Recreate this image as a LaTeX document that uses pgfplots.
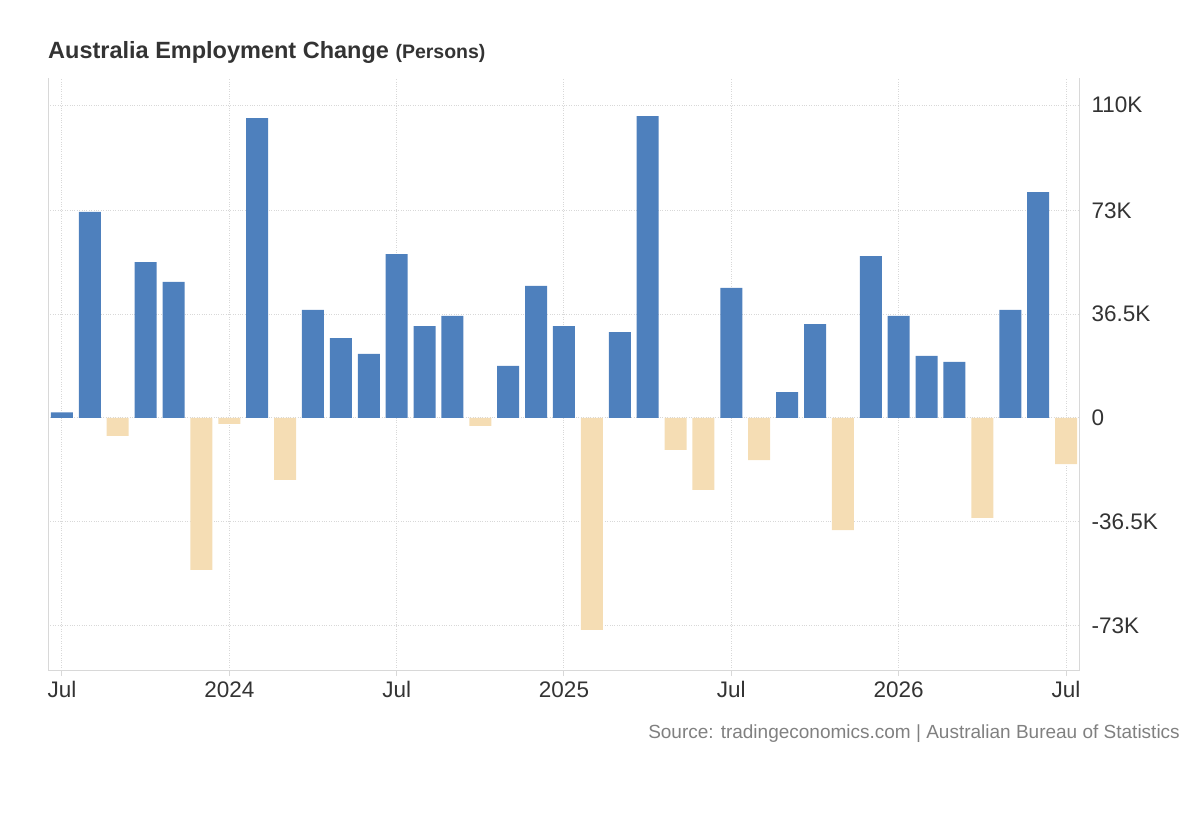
\documentclass[border=0pt]{standalone}
\usepackage{pgfplots}
\pgfplotsset{compat=1.18}
\usepackage{fontspec}
\setmainfont{Liberation Sans}
\definecolor{pos}{HTML}{4E80BD}
\definecolor{neg}{HTML}{F5DDB4}
\definecolor{gridc}{HTML}{D8D8D8}
\definecolor{txt}{HTML}{333333}
\begin{document}
\begin{tikzpicture}
\path[use as bounding box] (0,0) rectangle (1200pt,820pt);
\begin{axis}[at={(48pt,150pt)},anchor=south west,
 scale only axis, width=1032pt, height=592pt,
 xmin=-0.5, xmax=36.5, ymin=-88.6, ymax=119.5,
 axis x line*=bottom, axis y line*=right, axis line style={gridc,line width=1pt,-},
 xtick={0,6,12,18,24,30,36},
 xticklabels={Jul,2024,Jul,2025,Jul,2026,Jul},
 ytick={-73,-36.5,0,36.5,73,110},
 yticklabels={-73K,-36.5K,0,36.5K,73K,110K},
 y tick label style={anchor=west,xshift=2pt},
 ytick style={draw=none}, xtick style={gridc,line width=1pt},
 x tick label style={yshift=-2pt},
 tick align=outside, major tick length=6pt,
 xmajorgrids, ymajorgrids, grid style={gridc,dotted,line width=1pt},
 tick label style={font=\fontsize{22.5}{26}\selectfont, text=txt},
 /pgf/number format/assume math mode=true,
 ybar, bar width=22pt, bar shift=0pt,
 clip=false]
\addplot[fill=pos,draw=none] coordinates {(0,2)(1,72.4)(3,54.8)(4,47.8)(7,105.4)(9,38)(10,28.1)(11,22.5)(12,57.6)(13,32.3)(14,35.9)(16,18.3)(17,46.4)(18,32.3)(20,30.2)(21,106.1)(24,45.7)(26,9.1)(27,33)(29,56.9)(30,35.9)(31,21.8)(32,19.7)(34,38)(35,79.4)};
\addplot[fill=neg,draw=none] coordinates {(2,-6.3)(5,-53.4)(6,-2.1)(8,-21.8)(15,-2.8)(19,-74.5)(22,-11.2)(23,-25.3)(25,-14.8)(28,-39.4)(33,-35.1)(36,-16.2)};
\draw[gridc,line width=1pt] (rel axis cs:0,0) -- (rel axis cs:0,1);
\end{axis}
\node[anchor=base west,text=txt,inner sep=0] at (48pt,761pt) {\fontsize{23.5}{28}\selectfont\bfseries Australia Employment Change \fontsize{19.5}{23}\selectfont(Persons)};
\node[anchor=base east,text=gray,inner sep=0] at (1180pt,82pt) {\fontsize{19}{22}\selectfont Source: tradingeconomics.com | Australian Bureau of Statistics};
\end{tikzpicture}
\end{document}
